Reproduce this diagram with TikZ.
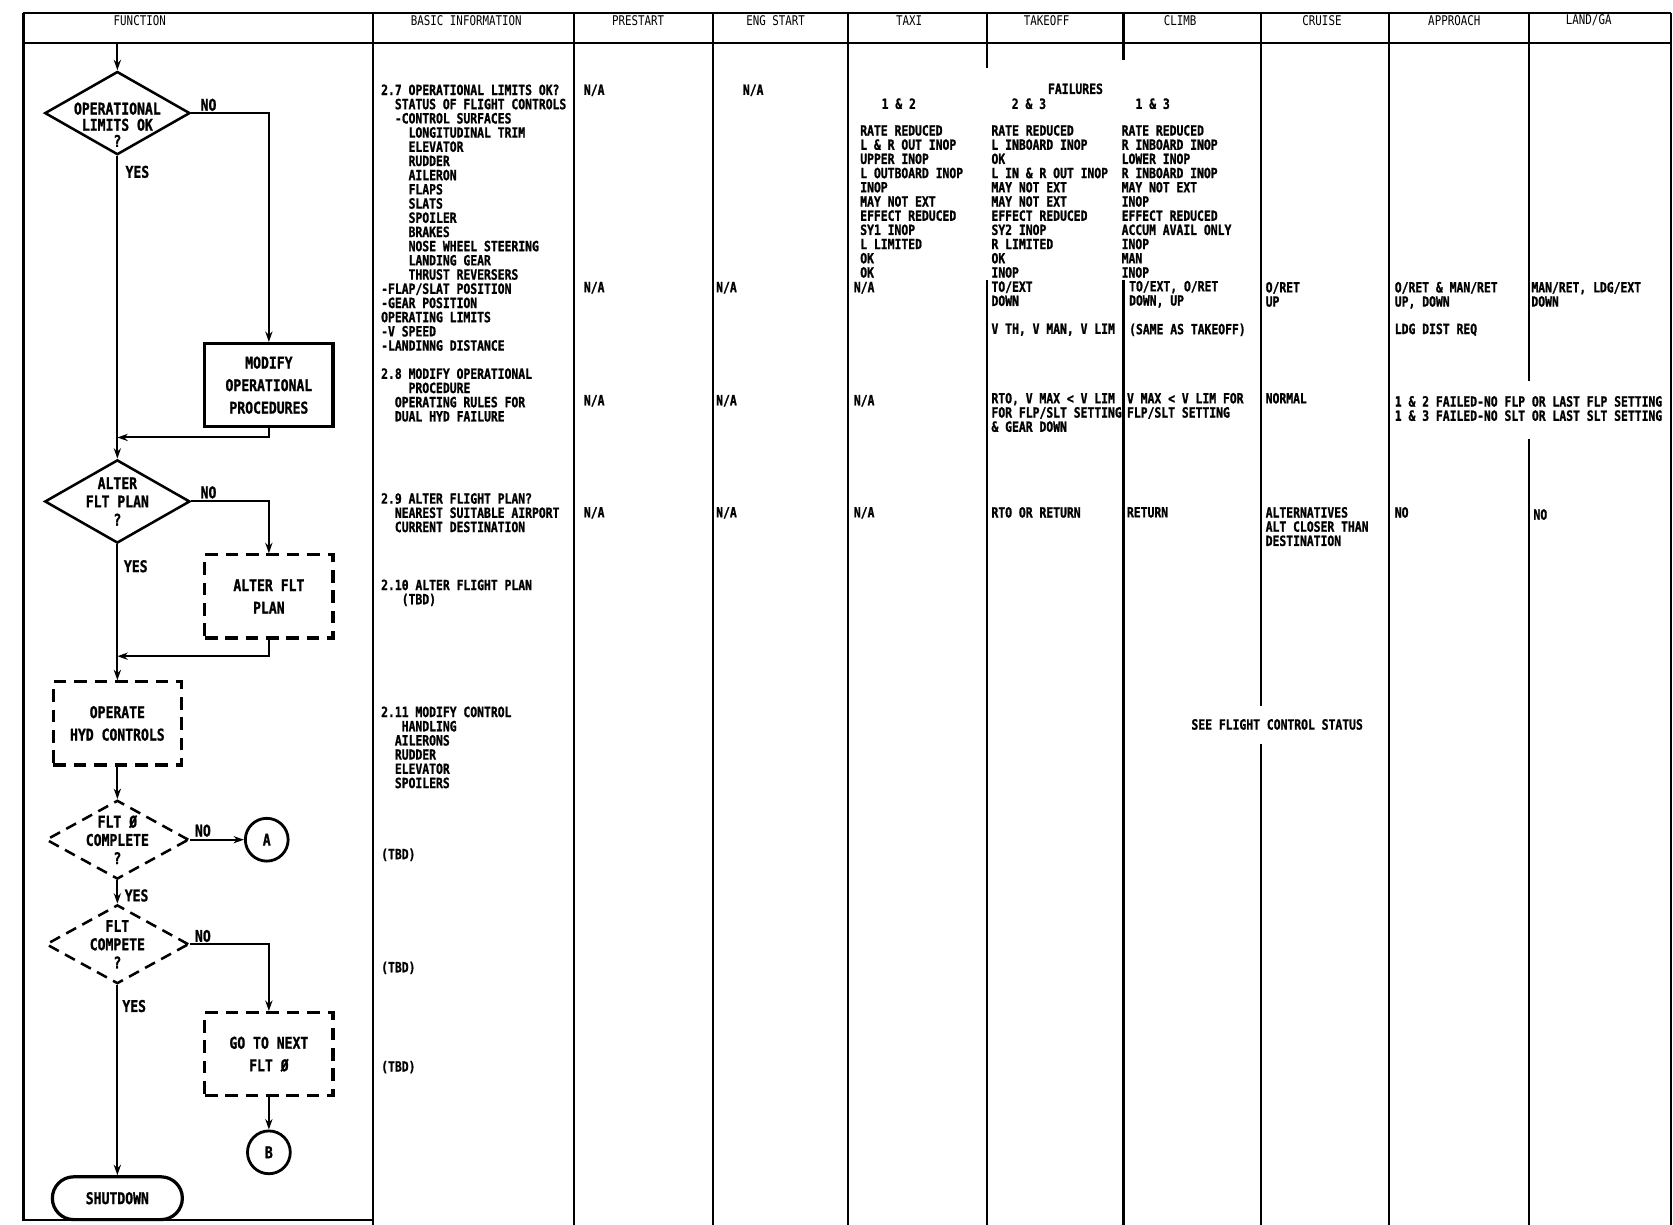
\documentclass[tikz,border=0pt]{standalone}
\usepackage{fontspec}
\newfontfamily\plotfont{DejaVu Sans Mono}[FakeStretch=0.81, BoldFeatures={FakeBold=1.2}]
\usetikzlibrary{arrows.meta,shapes.geometric,shapes.misc}

\begin{document}
\begin{tikzpicture}[x=0.02667cm, y=-0.02667cm,
    grid/.style={line width=1.5pt},
    colhead/.style={inner sep=0pt, font=\plotfont\fontsize{9.5}{10}\selectfont},
    cell/.style={anchor=north west, inner sep=0pt, align=left,
        font=\plotfont\bfseries\fontsize{10}{10.1}\selectfont},
    flowtext/.style={inner sep=0pt, align=center,
        font=\plotfont\bfseries\fontsize{11.5}{13}\selectfont},
    flow/.style={line width=1.4pt, -{Stealth[length=2.6mm, width=1.8mm]}},
    decision/.style={diamond, draw, line width=1.8pt, inner sep=0pt,
        minimum width=3.63cm, minimum height=2.08cm},
    dashdecision/.style={decision, dash pattern=on 8pt off 5pt,
        minimum width=3.57cm, minimum height=1.97cm},
    procbox/.style={rectangle, draw, line width=2.3pt, flowtext,
        minimum width=3.2cm, minimum height=2.08cm,
        font=\plotfont\bfseries\fontsize{11.5}{16}\selectfont},
    dashbox/.style={procbox, dash pattern=on 9pt off 5.5pt},
    connector/.style={circle, draw, line width=2pt, minimum size=1.07cm, flowtext},
    terminal/.style={rounded rectangle, draw, line width=2.3pt, flowtext,
        minimum width=3.25cm, minimum height=1.07cm},
    yesno/.style={flowtext, anchor=south west}]

    \useasboundingbox (0,0) rectangle (1568,1148);

    % Table frame and header row
    \draw[grid] (22,12) -- (1566,12);
    \draw[grid] (22,40) -- (1566,40);
    \draw[grid] (22,12) -- (22,1143) -- (350,1143);
    \foreach \x in {350,538,668,795,1302,1566}
        \draw[grid] (\x,12) -- (\x,1148);

    % Broken column rules (around the failures block and long texts)
    \draw[grid] (925,12) -- (925,64);
    \draw[grid] (925,262) -- (925,1148);
    \draw[grid] (1053,12) -- (1053,56);
    \draw[grid] (1053,262) -- (1053,1148);
    \draw[grid] (1182,12) -- (1182,662);
    \draw[grid] (1182,697) -- (1182,1148);
    \draw[grid] (1433,12) -- (1433,357);
    \draw[grid] (1433,411) -- (1433,1148);

    % Column titles
    \node[colhead] (hfunc) at (131,19) {FUNCTION};
    \node[colhead] (hbasic) at (437,19) {BASIC INFORMATION};
    \node[colhead] (hprestart) at (598,19) {PRESTART};
    \node[colhead] (hengstart) at (727,19) {ENG START};
    \node[colhead] (htaxi) at (852,19) {TAXI};
    \node[colhead] (htakeoff) at (981,19) {TAKEOFF};
    \node[colhead] (hclimb) at (1106,19) {CLIMB};
    \node[colhead] (hcruise) at (1239,19) {CRUISE};
    \node[colhead] (happroach) at (1363,19) {APPROACH};
    \node[colhead] (hland) at (1489,19) {LAND/GA};

    % Flowchart
    \coordinate (start) at (110,40);
    \node[decision, label={[flowtext, yshift=-0.29cm,
            font=\plotfont\bfseries\fontsize{11.5}{11.5}\selectfont]center:{OPERATIONAL\\LIMITS OK\\?}}]
        (oplimits) at (110,106) {};
    \node[procbox] (modify) at (252,361) {MODIFY\\OPERATIONAL\\PROCEDURES};
    \node[decision, label={[flowtext]center:{ALTER\\FLT PLAN\\?}}]
        (altplan) at (110,470) {};
    \node[dashbox] (altbox) at (252,559) {ALTER FLT\\PLAN};
    \node[dashbox] (hydctl) at (110,678) {OPERATE\\HYD CONTROLS};
    \node[dashdecision, label={[flowtext]center:{FLT Ø\\COMPLETE\\?}}]
        (phasedone) at (110,787) {};
    \node[connector] (conA) at (250,787) {A};
    \node[dashdecision, label={[flowtext]center:{FLT\\COMPETE\\?}}]
        (fltdone) at (110,885) {};
    \node[dashbox] (nextflt) at (252,988) {GO TO NEXT\\FLT Ø};
    \node[connector] (conB) at (252,1080) {B};
    \node[terminal] (shutdown) at (110,1123) {SHUTDOWN};

    \coordinate (join1) at (110,410);
    \coordinate (join2) at (110,615);

    \draw[flow] (start) -- (oplimits.north);
    \draw[flow] (oplimits.east) -| (modify.north)
        node[yesno, pos=0, xshift=0.21cm, yshift=0.03cm] {NO};
    \draw[flow] (modify.south) |- (join1);
    \draw[flow] (oplimits.south) -- (altplan.north)
        node[yesno, anchor=north west, pos=0, xshift=0.18cm, yshift=-0.22cm] {YES};
    \draw[flow] (altplan.east) -| (altbox.north)
        node[yesno, pos=0, xshift=0.21cm, yshift=0.05cm] {NO};
    \draw[flow] (altbox.south) |- (join2);
    \draw[flow] (altplan.south) -- (hydctl.north)
        node[yesno, anchor=north west, pos=0, xshift=0.14cm, yshift=-0.37cm] {YES};
    \draw[flow] (hydctl.south) -- (phasedone.north);
    \draw[flow] (phasedone.east) -- (conA)
        node[yesno, pos=0, xshift=0.1cm, yshift=0.05cm] {NO};
    \draw[flow] (phasedone.south) -- (fltdone.north)
        node[yesno, anchor=north west, pos=0, xshift=0.16cm, yshift=-0.2cm] {YES};
    \draw[flow] (fltdone.east) -| (nextflt.north)
        node[yesno, pos=0, xshift=0.1cm, yshift=0.03cm] {NO};
    \draw[flow] (nextflt.south) -- (conB);
    \draw[flow] (fltdone.south) -- (shutdown.north)
        node[yesno, anchor=north west, pos=0, xshift=0.1cm, yshift=-0.35cm] {YES};

    % Basic information
    \node[cell] (info27) at (357,79) {2.7 OPERATIONAL LIMITS OK?\\
        \ \ STATUS OF FLIGHT CONTROLS\\
        \ \ -CONTROL SURFACES\\
        \ \ \ \ LONGITUDINAL TRIM\\
        \ \ \ \ ELEVATOR\\
        \ \ \ \ RUDDER\\
        \ \ \ \ AILERON\\
        \ \ \ \ FLAPS\\
        \ \ \ \ SLATS\\
        \ \ \ \ SPOILER\\
        \ \ \ \ BRAKES\\
        \ \ \ \ NOSE WHEEL STEERING\\
        \ \ \ \ LANDING GEAR\\
        \ \ \ \ THRUST REVERSERS\\
        -FLAP/SLAT POSITION\\
        -GEAR POSITION\\
        OPERATING LIMITS\\
        -V SPEED\\
        -LANDINNG DISTANCE};
    \node[cell] (info28) at (357,345) {2.8 MODIFY OPERATIONAL\\
        \ \ \ \ PROCEDURE\\
        \ \ OPERATING RULES FOR\\
        \ \ DUAL HYD FAILURE};
    \node[cell] (info29) at (357,462) {2.9 ALTER FLIGHT PLAN?\\
        \ \ NEAREST SUITABLE AIRPORT\\
        \ \ CURRENT DESTINATION};
    \node[cell] (info210) at (357,543) {2.10 ALTER FLIGHT PLAN\\
        \ \ \ (TBD)};
    \node[cell] (info211) at (357,662) {2.11 MODIFY CONTROL\\
        \ \ \ HANDLING\\
        \ \ AILERONS\\
        \ \ RUDDER\\
        \ \ ELEVATOR\\
        \ \ SPOILERS};
    \node[cell] (tbd1) at (357,795) {(TBD)};
    \node[cell] (tbd2) at (357,901) {(TBD)};
    \node[cell] (tbd3) at (357,994) {(TBD)};

    % Prestart, eng start, taxi
    \node[cell] (pre1) at (547,79) {N/A};
    \node[cell] (pre2) at (547,264) {N/A};
    \node[cell] (pre3) at (547,370) {N/A};
    \node[cell] (pre4) at (547,475) {N/A};
    \node[cell] (eng1) at (696,79) {N/A};
    \node[cell] (eng2) at (671,264) {N/A};
    \node[cell] (eng3) at (671,370) {N/A};
    \node[cell] (eng4) at (671,475) {N/A};
    \node[cell] (taxi2) at (800,264) {N/A};
    \node[cell] (taxi3) at (800,370) {N/A};
    \node[cell] (taxi4) at (800,475) {N/A};

    % Failure combinations
    \node[cell] (failures) at (982,78) {FAILURES};
    \node[cell] (fail12) at (826,92) {1 \& 2};
    \node[cell] (fail23) at (948,92) {2 \& 3};
    \node[cell] (fail13) at (1064,92) {1 \& 3};
    \node[cell] (stat12) at (806,117) {RATE REDUCED\\L \& R OUT INOP\\UPPER INOP\\
        L OUTBOARD INOP\\INOP\\MAY NOT EXT\\EFFECT REDUCED\\SY1 INOP\\
        L LIMITED\\OK\\OK};
    \node[cell] (stat23) at (929,117) {RATE REDUCED\\L INBOARD INOP\\OK\\
        L IN \& R OUT INOP\\MAY NOT EXT\\MAY NOT EXT\\EFFECT REDUCED\\SY2 INOP\\
        R LIMITED\\OK\\INOP\\TO/EXT\\DOWN};
    \node[cell] (stat13) at (1051,117) {RATE REDUCED\\R INBOARD INOP\\LOWER INOP\\
        R INBOARD INOP\\MAY NOT EXT\\INOP\\EFFECT REDUCED\\ACCUM AVAIL ONLY\\
        INOP\\MAN\\INOP};
    \node[cell] (climbpos) at (1058,263) {TO/EXT, O/RET\\DOWN, UP};
    \node[cell] (toffspeed) at (929,303) {V TH, V MAN, V LIM};
    \node[cell] (climbspeed) at (1058,303) {(SAME AS TAKEOFF)};

    % Cruise, approach, land
    \node[cell] (cruisepos) at (1186,264) {O/RET\\UP};
    \node[cell] (apppos) at (1307,264) {O/RET \& MAN/RET\\UP, DOWN};
    \node[cell] (appdist) at (1307,303) {LDG DIST REQ};
    \node[cell] (landpos) at (1435,264) {MAN/RET, LDG/EXT\\DOWN};

    % Operating rules
    \node[cell] (toffrule) at (929,368) {RTO, V MAX < V LIM\\FOR FLP/SLT SETTING\\\& GEAR DOWN};
    \node[cell] (climbrule) at (1056,368) {V MAX < V LIM FOR\\FLP/SLT SETTING};
    \node[cell] (cruiserule) at (1186,368) {NORMAL};
    \node[cell] (apprule) at (1307,371)
        {1 \& 2 FAILED-NO FLP OR LAST FLP SETTING\\1 \& 3 FAILED-NO SLT OR LAST SLT SETTING};

    % Flight plan
    \node[cell] (toffplan) at (929,475) {RTO OR RETURN};
    \node[cell] (climbplan) at (1056,475) {RETURN};
    \node[cell] (cruiseplan) at (1186,475) {ALTERNATIVES\\ALT CLOSER THAN\\DESTINATION};
    \node[cell] (appplan) at (1307,475) {NO};
    \node[cell] (landplan) at (1437,477) {NO};

    % Control handling
    \node[cell, anchor=center] (seestatus) at (1197,679) {SEE FLIGHT CONTROL STATUS};
\end{tikzpicture}
\end{document}
